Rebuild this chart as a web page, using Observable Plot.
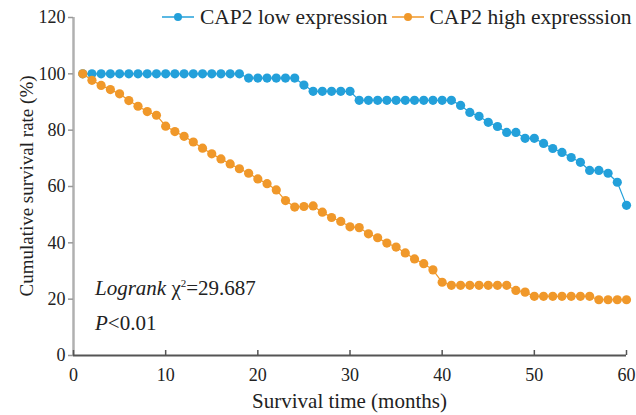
<!DOCTYPE html>
<html>
<head>
<meta charset="utf-8">
<script src="https://cdn.jsdelivr.net/npm/d3@7"></script>
<script src="https://cdn.jsdelivr.net/npm/@observablehq/plot@0.6"></script>
<style>
  body { margin: 0; background: #fff; }
  #wrap { position: relative; width: 636px; height: 415px; font-family: "Liberation Serif", "Times New Roman", serif; }
  #legend { position: absolute; top: 5px; left: 162px; display: flex; align-items: center; font-size: 21.5px; line-height: 24px; color: #222; white-space: nowrap; }
  #legend .item { display: flex; align-items: center; }
  #legend svg { display: block; }
</style>
</head>
<body>
<div id="wrap"></div>
<script>
// ---- data ----
const months = [1,2,3,4,5,6,7,8,9,10,11,12,13,14,15,16,17,18,19,20,21,22,23,24,25,26,27,28,29,30,
                31,32,33,34,35,36,37,38,39,40,41,42,43,44,45,46,47,48,49,50,51,52,53,54,55,56,57,58,59,60];
const lowExpression = [100,100,100,100,100,100,100,100,100,100,100,100,100,100,100,100,100,100,
                       98.5,98.5,98.5,98.5,98.5,98.5,96,93.8,93.8,93.8,93.8,93.8,
                       90.6,90.6,90.6,90.6,90.6,90.6,90.6,90.6,90.6,90.6,90.6,
                       88.8,86.3,84.9,82.8,81.3,79.2,79.2,77.1,77.1,75.3,73.5,72.1,70.3,68.6,65.7,65.7,64.7,61.5,53.3];
const highExpression = [100,97.7,95.9,94.4,92.9,90.5,88.5,86.6,85.3,81.4,79.5,77.8,75.8,73.6,71.6,69.8,68.0,66.3,64.7,62.7,
                        61.0,58.8,55.0,52.7,52.9,53.1,50.9,49.0,47.6,45.7,45.4,43.2,41.8,39.9,38.5,36.4,34.3,32.6,30.4,26.0,
                        24.9,24.9,24.9,24.9,24.9,24.9,24.9,23.1,22.5,21.0,21.0,21.0,21.0,21.0,21.0,21.0,19.8,19.8,19.8,19.8];
const seriesNames = ["CAP2 low expression", "CAP2 high expresssion"];
const seriesColors = ["#23a0da", "#f0982a"];
const xTicks = [0,10,20,30,40,50,60];
const yTicks = [0,20,40,60,80,100,120];
const xLabel = "Survival time (months)";
const yLabel = "Cumulative survival rate (%)";

const rows = [];
months.forEach((m, i) => {
  rows.push({month: m, rate: lowExpression[i], group: seriesNames[0]});
  rows.push({month: m, rate: highExpression[i], group: seriesNames[1]});
});
const lowRows = rows.filter(d => d.group === seriesNames[0]);
const highRows = rows.filter(d => d.group === seriesNames[1]);

const plot = Plot.plot({
  width: 636,
  height: 415,
  marginLeft: 73,
  marginRight: 10,
  marginTop: 17,
  marginBottom: 60,
  style: {fontFamily: '"Liberation Serif", "Times New Roman", serif', fontSize: "18px", color: "#222", background: "#fff"},
  x: {domain: [0, 60]},
  y: {domain: [0, 120]},
  marks: [
    Plot.ruleX([0], {stroke: "#b0b0b0", strokeWidth: 2.5}),
    Plot.axisY(yTicks, {tickSize: 5, tickPadding: 3, stroke: "#999", strokeWidth: 1.5, label: null, fontSize: 18, fill: "#222"}),
    Plot.axisX(xTicks, {tickSize: -5, tickPadding: 18, stroke: "#555", strokeWidth: 1.5, label: null, fontSize: 18, fill: "#222"}),
    Plot.ruleY([0], {stroke: "#555", strokeWidth: 2}),
    Plot.line(lowRows, {x: "month", y: "rate", stroke: seriesColors[0], strokeWidth: 1.2}),
    Plot.dot(lowRows, {x: "month", y: "rate", fill: seriesColors[0], r: 4.6}),
    Plot.line(highRows, {x: "month", y: "rate", stroke: seriesColors[1], strokeWidth: 1.2}),
    Plot.dot(highRows, {x: "month", y: "rate", fill: seriesColors[1], r: 4.6})
  ]
});

const wrap = document.getElementById("wrap");
wrap.appendChild(plot);

const sx = plot.scale("x"), sy = plot.scale("y");
const svg = d3.select(plot);
const fontFam = '"Liberation Serif", "Times New Roman", serif';

// axis titles
svg.append("text")
  .attr("x", (sx.range[0] + sx.range[1]) / 2)
  .attr("y", 408)
  .attr("text-anchor", "middle")
  .attr("font-size", 21)
  .attr("font-family", fontFam)
  .attr("fill", "#222")
  .text(xLabel);
svg.append("text")
  .attr("transform", `translate(33,${(sy.range[0] + sy.range[1]) / 2}) rotate(-90)`)
  .attr("text-anchor", "middle")
  .attr("font-size", 19)
  .attr("font-family", fontFam)
  .attr("fill", "#222")
  .text(yLabel);

// statistics annotation
const ann = svg.append("g").attr("font-family", fontFam).attr("font-size", 21).attr("fill", "#222").attr("text-anchor", "start");
const t1 = ann.append("text").attr("x", sx.range[0] + 22).attr("y", 295);
t1.append("tspan").attr("font-style", "italic").text("Logrank");
t1.append("tspan").text(" χ");
t1.append("tspan").attr("font-size", 11).attr("dy", -8).text("2");
t1.append("tspan").attr("dy", 8).text("=29.687");
const t2 = ann.append("text").attr("x", sx.range[0] + 22).attr("y", 330);
t2.append("tspan").attr("font-style", "italic").text("P");
t2.append("tspan").text("<0.01");

// legend
const legend = document.createElement("div");
legend.id = "legend";
seriesNames.forEach((name, i) => {
  const item = document.createElement("div");
  item.className = "item";
  item.style.marginRight = i === 0 ? "4px" : "0";
  const sw = d3.create("svg").attr("width", 32).attr("height", 24);
  sw.append("line").attr("x1", 0).attr("x2", 32).attr("y1", 12).attr("y2", 12)
    .attr("stroke", seriesColors[i]).attr("stroke-width", 1.5);
  sw.append("circle").attr("cx", 16).attr("cy", 12).attr("r", 4).attr("fill", seriesColors[i]);
  item.appendChild(sw.node());
  const label = document.createElement("span");
  label.style.marginLeft = "6px";
  label.textContent = name;
  item.appendChild(label);
  legend.appendChild(item);
});
wrap.appendChild(legend);
</script>
</body>
</html>
